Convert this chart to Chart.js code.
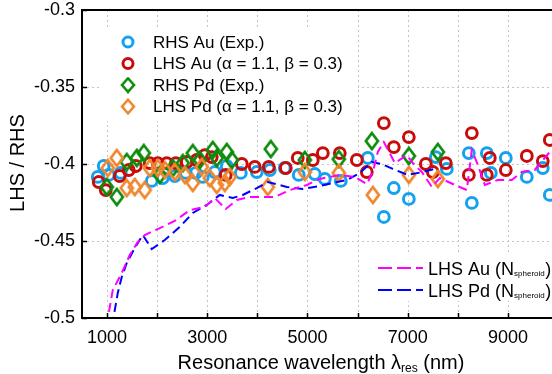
<!DOCTYPE html>
<html><head><meta charset="utf-8">
<script src="https://cdn.jsdelivr.net/npm/chart.js@4.4.0/dist/chart.umd.min.js"></script>
<style>html,body{margin:0;padding:0;background:#fff;}#wrap{width:552px;height:374px;}</style>
</head><body><div id="wrap"><canvas id="c" width="552" height="374"></canvas></div>
<script>
// ---- data ----
const xTickValues = [1000,2000,3000,4000,5000,6000,7000,8000,9000];
const xTickLabels = ['1000','','3000','','5000','','7000','','9000'];
const yTickValues = [-0.5,-0.45,-0.4,-0.35,-0.3];
const yTickLabels = ['-0.5','-0.45','-0.4','-0.35','-0.3'];

const seriesNames = ['RHS Au (Exp.)','LHS Au (\u03b1 = 1.1, \u03b2 = 0.3)','RHS Pd (Exp.)','LHS Pd (\u03b1 = 1.1, \u03b2 = 0.3)'];
const lineNames = ['LHS Au (N','LHS Pd (N'];
const lineSub = 'spheroid';

const rhsAuX = [934,814,1034,1273,1892,2112,2352,2572,2770,2910,3150,3389,3669,3988,4248,4547,4826,5146,5346,5665,6204,6524,6723,7023,7562,7781,8220,8280,8579,8659,8958,9377,9696,9836];
const rhsAuY = [-0.4013,-0.4084,-0.4071,-0.4058,-0.411,-0.4091,-0.4078,-0.4058,-0.4058,-0.4084,-0.4052,-0.4013,-0.4058,-0.4052,-0.4039,-0.4026,-0.4071,-0.4065,-0.4097,-0.411,-0.3961,-0.4344,-0.4156,-0.4227,-0.3955,-0.4032,-0.3929,-0.4253,-0.3929,-0.4058,-0.3961,-0.4084,-0.4026,-0.4201];

const lhsAuX = [834,974,1253,1433,1573,1852,2012,2192,2372,2591,2790,2950,3090,3369,3689,3948,4228,4567,4806,5106,5306,5645,5985,6184,6524,6723,7023,7362,7502,7761,8220,8280,8579,8639,8958,9377,9696,9836];
const lhsAuY = [-0.4117,-0.4169,-0.4078,-0.4039,-0.4013,-0.3994,-0.3994,-0.3994,-0.3994,-0.3987,-0.3974,-0.3942,-0.3955,-0.4071,-0.4,-0.4019,-0.4019,-0.4026,-0.3961,-0.3974,-0.3929,-0.3929,-0.3974,-0.4052,-0.3734,-0.389,-0.3825,-0.4,-0.4052,-0.3994,-0.4071,-0.3799,-0.4071,-0.3961,-0.4039,-0.3948,-0.3981,-0.3844];

const rhsPdX = [994,1194,1393,1593,1733,2052,2311,2511,2711,2850,3110,3190,3389,3489,4268,4946,5625,6284,7023,7602];
const rhsPdY = [-0.4149,-0.4214,-0.3987,-0.3961,-0.3929,-0.4071,-0.4026,-0.3994,-0.3929,-0.3974,-0.3909,-0.3961,-0.3922,-0.3974,-0.3903,-0.3974,-0.3968,-0.3851,-0.3948,-0.3922];

const lhsPdX = [1014,1194,1393,1553,1752,1852,2012,2152,2351,2551,2711,2890,3050,3190,3350,3449,4208,4946,5625,6304,7023,7602];
const lhsPdY = [-0.4026,-0.3961,-0.4156,-0.4149,-0.4169,-0.4026,-0.4026,-0.4039,-0.4052,-0.4071,-0.4123,-0.4019,-0.4091,-0.4136,-0.4123,-0.4084,-0.4149,-0.4052,-0.4058,-0.4201,-0.4071,-0.4097];

const auSphX = [990,1114,1293,1453,1613,1753,2052,2351,2651,2950,3150,3369,3589,3849,4348,4648,4987,5246,5645,5945,6185,6304,6404,6524,6743,6983,7103,7282,7482,7641,7940,8180,8280,8400,8539,8798,9077,9277,9536,9836];
const auSphY = [-0.505,-0.4818,-0.4708,-0.4591,-0.4506,-0.4461,-0.4416,-0.437,-0.4299,-0.4279,-0.4221,-0.4292,-0.4234,-0.4214,-0.4214,-0.4169,-0.4136,-0.4097,-0.4071,-0.4084,-0.413,-0.4052,-0.3922,-0.3857,-0.3994,-0.3942,-0.3994,-0.4052,-0.4149,-0.4091,-0.4136,-0.4169,-0.3909,-0.4006,-0.4136,-0.4104,-0.4104,-0.4052,-0.4039,-0.3922];

const pdSphX = [1100,1214,1293,1393,1553,1713,1892,2152,2451,2711,2990,3250,3509,3709,3989,4209,4587,4907,5246,5506,5785,6045,6284,6484,6703,7002,7302,7601];
const pdSphY = [-0.505,-0.4838,-0.4734,-0.4643,-0.4545,-0.4461,-0.4552,-0.4494,-0.4409,-0.4318,-0.4266,-0.4201,-0.4221,-0.4201,-0.4156,-0.4117,-0.4149,-0.4162,-0.4143,-0.4123,-0.4104,-0.4058,-0.3987,-0.4,-0.4032,-0.4071,-0.4052,-0.4026];

// ---- styles ----
const C_BLUE = '#12a2ef', C_RED = '#c80c0c', C_GREEN = '#0c8c0c', C_ORANGE = '#f0872e';
const C_MAG = '#ff00ff', C_LBLUE = '#0000ff';
const FONT = '"Liberation Sans", Arial, sans-serif';

function diamond(color) {
  const w = 16, h = 20, c = document.createElement('canvas');
  c.width = w; c.height = h;
  const g = c.getContext('2d');
  g.strokeStyle = color; g.lineWidth = 2.7; g.lineJoin = 'miter';
  g.beginPath();
  g.moveTo(w/2, 2); g.lineTo(w-2, h/2); g.lineTo(w/2, h-2); g.lineTo(2, h/2); g.closePath();
  g.stroke();
  return c;
}
const dGreen = diamond(C_GREEN), dOrange = diamond(C_ORANGE);

const zip = (xs, ys) => xs.map((v, i) => ({x: v, y: ys[i]}));

const ptBase = {showLine: false, clip: false, pointBackgroundColor: 'rgba(0,0,0,0)'};
const datasets = [
  {label: lineNames[0], data: zip(auSphX, auSphY), showLine: true, borderColor: C_MAG, borderWidth: 2, borderDash: [9,5], pointRadius: 0, fill: false, tension: 0, order: 0, clip: 0},
  {label: lineNames[1], data: zip(pdSphX, pdSphY), showLine: true, borderColor: C_LBLUE, borderWidth: 2, borderDash: [9,5], pointRadius: 0, fill: false, tension: 0, order: 1, clip: 0},
  Object.assign({label: seriesNames[3], data: zip(lhsPdX, lhsPdY), pointStyle: dOrange, pointRadius: 8, order: 2}, ptBase),
  Object.assign({label: seriesNames[2], data: zip(rhsPdX, rhsPdY), pointStyle: dGreen, pointRadius: 8, order: 3}, ptBase),
  Object.assign({label: seriesNames[1], data: zip(lhsAuX, lhsAuY), pointStyle: 'circle', pointRadius: 5.4, pointBorderWidth: 3, pointBorderColor: C_RED, order: 4}, ptBase),
  Object.assign({label: seriesNames[0], data: zip(rhsAuX, rhsAuY), pointStyle: 'circle', pointRadius: 5.4, pointBorderWidth: 3, pointBorderColor: C_BLUE, order: 5}, ptBase),
];

const custom = {
  id: 'custom',
  beforeDraw(chart) {
    const ctx = chart.ctx; ctx.save(); ctx.fillStyle = '#fff'; ctx.fillRect(0, 0, chart.width, chart.height); ctx.restore();
  },
  beforeDatasetsDraw(chart) {
    const {ctx, chartArea: a, scales: {x, y}} = chart;
    ctx.save();
    ctx.strokeStyle = '#c4c4c4'; ctx.lineWidth = 1; ctx.setLineDash([2, 3]);
    xTickValues.forEach(v => {
      const px = Math.round(x.getPixelForValue(v)) + 0.5;
      ctx.beginPath(); ctx.moveTo(px, a.top); ctx.lineTo(px, a.bottom); ctx.stroke();
    });
    yTickValues.forEach(v => {
      if (v <= -0.5 || v >= -0.3) return;
      const py = Math.round(y.getPixelForValue(v)) + 0.5;
      ctx.beginPath(); ctx.moveTo(a.left, py); ctx.lineTo(a.right, py); ctx.stroke();
    });
    ctx.setLineDash([]);
    ctx.fillStyle = '#fff';
    ctx.fillRect(100, 27, 258, 94);
    ctx.fillRect(372, 253, 180, 48);
    ctx.restore();
  },
  afterDatasetsDraw(chart) {
    const {ctx, chartArea: a, scales: {x, y}} = chart;
    ctx.save();
    ctx.strokeStyle = '#000'; ctx.lineWidth = 2; ctx.setLineDash([]);
    ctx.beginPath();
    ctx.moveTo(a.right + 2, a.top); ctx.lineTo(a.left, a.top); ctx.lineTo(a.left, a.bottom); ctx.lineTo(a.right + 2, a.bottom);
    ctx.stroke();
    ctx.lineWidth = 1.5;
    xTickValues.forEach(v => {
      const px = Math.round(x.getPixelForValue(v)) + 0.5;
      ctx.beginPath(); ctx.moveTo(px, a.bottom); ctx.lineTo(px, a.bottom - 5); ctx.stroke();
    });
    yTickValues.forEach(v => {
      const py = Math.round(y.getPixelForValue(v)) + 0.5;
      ctx.beginPath(); ctx.moveTo(a.left, py); ctx.lineTo(a.left + 5, py); ctx.stroke();
    });
    // legend 1
    const rows = [42, 63.5, 85, 106.5];
    ctx.fillStyle = '#000'; ctx.font = '17px ' + FONT; ctx.textBaseline = 'middle'; ctx.textAlign = 'left';
    rows.forEach((ry, i) => {
      if (i < 2) {
        ctx.beginPath(); ctx.arc(128, ry, 5, 0, Math.PI * 2);
        ctx.strokeStyle = i === 0 ? C_BLUE : C_RED; ctx.lineWidth = 3; ctx.stroke();
      } else {
        const d = i === 2 ? dGreen : dOrange;
        ctx.drawImage(d, 128 - d.width / 2, ry - d.height / 2 + 1.5, d.width, d.height - 3);
      }
      ctx.fillText(seriesNames[i], 153, ry + 1);
    });
    // legend 2
    const lrows = [268, 290];
    const lcols = [C_MAG, C_LBLUE];
    lrows.forEach((ry, i) => {
      ctx.strokeStyle = lcols[i]; ctx.lineWidth = 2.2; ctx.setLineDash([14, 5]);
      ctx.beginPath(); ctx.moveTo(378, ry); ctx.lineTo(423, ry); ctx.stroke();
      ctx.setLineDash([]);
      ctx.fillStyle = '#000'; ctx.textBaseline = 'alphabetic';
      ctx.font = '18px ' + FONT;
      ctx.fillText(lineNames[i], 428, ry + 7);
      const w = ctx.measureText(lineNames[i]).width;
      ctx.font = '8px ' + FONT;
      ctx.fillText(lineSub, 428 + w, ry + 8);
      const w2 = ctx.measureText(lineSub).width;
      ctx.font = '18px ' + FONT;
      ctx.fillText(')', 428 + w + w2 + 0.5, ry + 7);
    });
    ctx.restore();
  },
  afterDraw(chart) {
    const ctx = chart.ctx;
    ctx.save();
    ctx.fillStyle = '#000';
    ctx.translate(18, 163); ctx.rotate(-Math.PI / 2);
    ctx.font = '20px ' + FONT; ctx.textAlign = 'center'; ctx.textBaseline = 'middle';
    ctx.fillText('LHS / RHS', 0, 0);
    ctx.setTransform(1, 0, 0, 1, 0, 0);
    const p1 = 'Resonance wavelength \u03bb', sub = 'res', p3 = ' (nm)';
    ctx.textAlign = 'left'; ctx.textBaseline = 'alphabetic';
    ctx.font = '20px ' + FONT; const w1 = ctx.measureText(p1).width, w3 = ctx.measureText(p3).width;
    ctx.font = '12px ' + FONT; const w2 = ctx.measureText(sub).width;
    const total = w1 + w2 + w3; const sx = 321 - total / 2; const by = 369;
    ctx.font = '20px ' + FONT; ctx.fillText(p1, sx, by);
    ctx.font = '12px ' + FONT; ctx.fillText(sub, sx + w1, by + 3);
    ctx.font = '20px ' + FONT; ctx.fillText(p3, sx + w1 + w2, by);
    ctx.restore();
  }
};

new Chart(document.getElementById('c'), {
  type: 'scatter',
  data: {datasets},
  plugins: [custom],
  options: {
    responsive: false, animation: false, devicePixelRatio: 1,
    layout: {padding: {left: 0, right: 0, top: 10, bottom: 0}, autoPadding: false},
    plugins: {legend: {display: false}, tooltip: {enabled: false}},
    scales: {
      x: {
        type: 'linear', min: 500, max: 9880,
        grid: {display: false, drawTicks: false}, border: {display: false},
        afterBuildTicks: s => { s.ticks = xTickValues.map(v => ({value: v})); },
        afterFit: s => { s.height = 56; s.paddingLeft = 0; s.paddingRight = 0; },
        ticks: {autoSkip: false, maxRotation: 0, padding: 11, color: '#000', font: {family: FONT, size: 18, lineHeight: 1},
          callback: (v, i) => xTickLabels[i]}
      },
      y: {
        type: 'linear', min: -0.5, max: -0.3,
        grid: {display: false, drawTicks: false}, border: {display: false},
        afterBuildTicks: s => { s.ticks = yTickValues.map(v => ({value: v})); },
        afterFit: s => { s.width = 82; s.paddingTop = 0; s.paddingBottom = 0; },
        ticks: {autoSkip: false, padding: 7, color: '#000', font: {family: FONT, size: 18, lineHeight: 1},
          callback: (v, i) => yTickLabels[i]}
      }
    }
  }
});
</script></body></html>
